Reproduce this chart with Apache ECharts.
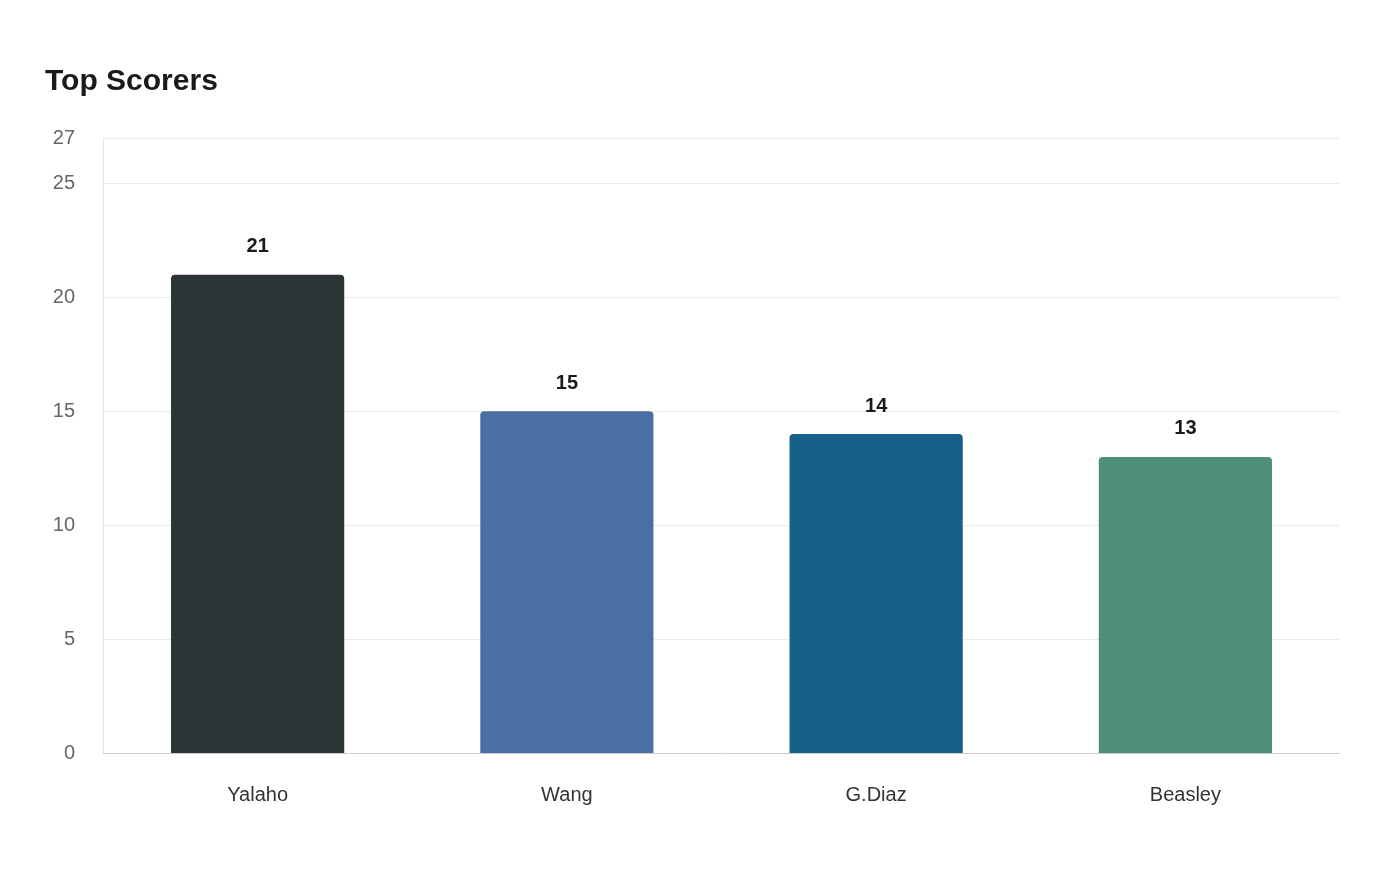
<!DOCTYPE html>
<html>
<head>
<meta charset="utf-8">
<script src="https://cdn.jsdelivr.net/npm/echarts@6/dist/echarts.min.js"></script>
<style>
    html, body { margin: 0; padding: 0; background: #fff; }
    #main { width: 1400px; height: 880px; }
</style>
</head>
<body>
<div id="main"></div>
<script>
var players = ['Yalaho', 'Wang', 'G.Diaz', 'Beasley'];
var goals = [21, 15, 14, 13];
var barColors = ['#2d3436', '#4a6fa5', '#166088', '#4f8f7a'];

var myChart = echarts.init(document.getElementById('main'));
var option = {
    animation: false,
    textStyle: { fontFamily: 'Liberation Sans, Arial, sans-serif' },
    title: {
        text: 'Top Scorers',
        left: 40,
        top: 62,
        textStyle: { fontSize: 30, fontWeight: 'bold', color: '#1a1a1a' }
    },
    grid: { left: 103, right: 60, top: 138, bottom: 127 },
    xAxis: {
        type: 'category',
        data: players,
        axisTick: { show: false },
        axisLine: { lineStyle: { color: '#cccccc' } },
        axisLabel: { color: '#333', fontSize: 20, margin: 32 }
    },
    yAxis: {
        type: 'value',
        min: 0,
        max: 27,
        interval: 5,
        axisLine: { show: true, lineStyle: { color: '#e6e6e6' } },
        axisTick: { show: false },
        splitLine: { lineStyle: { color: '#ebebeb' } },
        axisLabel: { color: '#666', fontSize: 20, margin: 28 }
    },
    series: [{
        type: 'bar',
        barWidth: '56%',
        data: goals.map(function (v, i) {
            return { value: v, itemStyle: { color: barColors[i] } };
        }),
        itemStyle: { borderRadius: [4, 4, 0, 0] },
        label: {
            show: true,
            position: 'top',
            distance: 18,
            color: '#1a1a1a',
            fontSize: 20,
            fontWeight: 'bold'
        }
    }]
};
myChart.setOption(option, true);
</script>
</body>
</html>
